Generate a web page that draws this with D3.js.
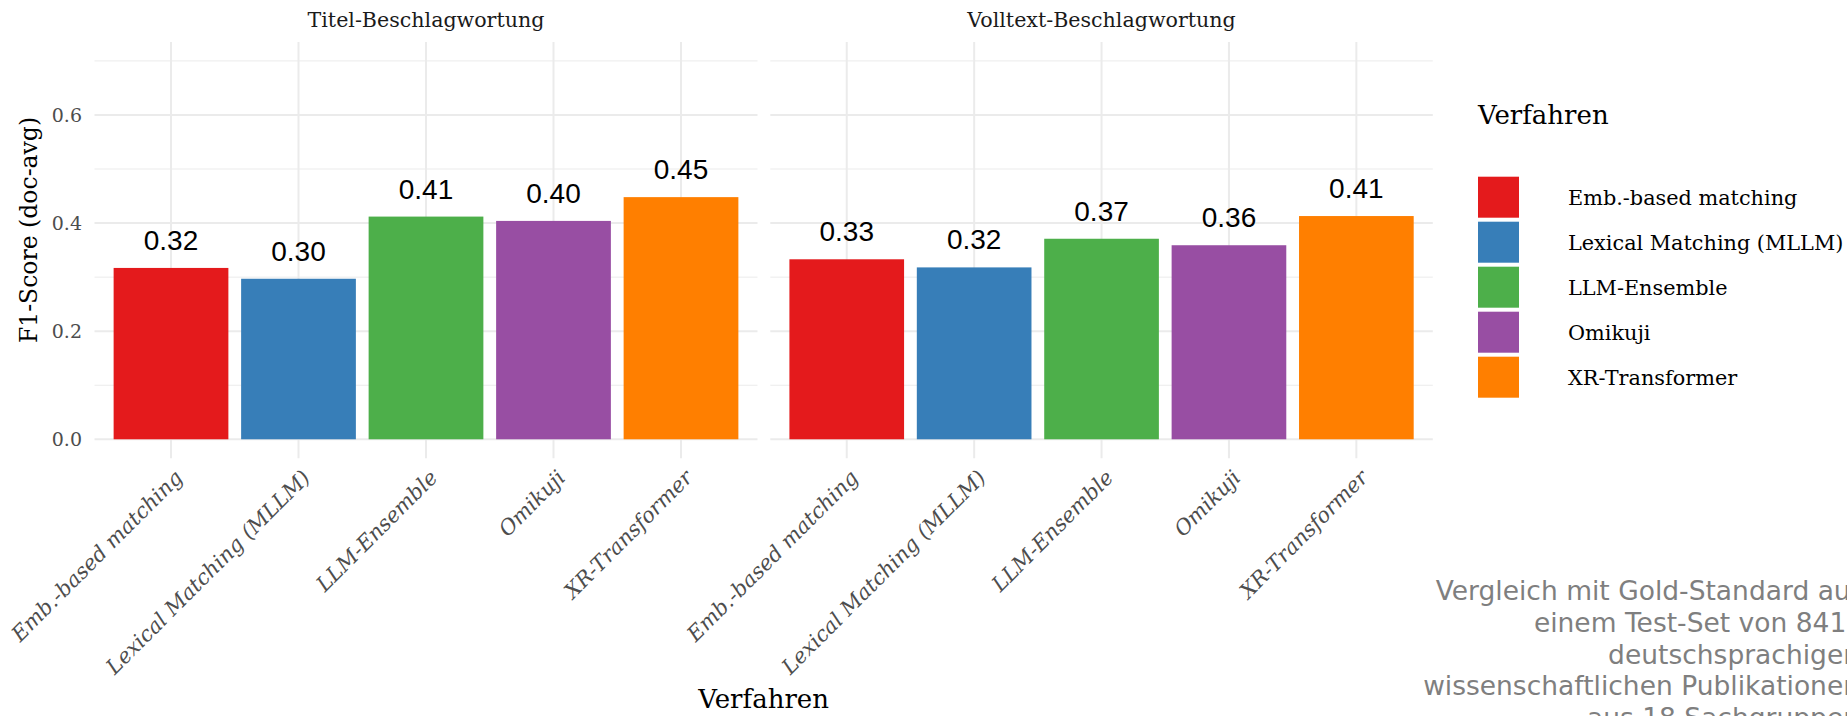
<!DOCTYPE html>
<html>
<head>
<meta charset="utf-8">
<script src="https://cdn.jsdelivr.net/npm/d3@7"></script>
<style>
  body { margin: 0; background: #fff; }
  svg { display: block; overflow: hidden; }
</style>
</head>
<body>
<div id="chart"></div>
<script>
// data
const methods = ["Emb.-based matching", "Lexical Matching (MLLM)", "LLM-Ensemble", "Omikuji", "XR-Transformer"];
const panels = ["Titel-Beschlagwortung", "Volltext-Beschlagwortung"];
const titelScores = [0.317, 0.297, 0.412, 0.404, 0.448];
const volltextScores = [0.333, 0.318, 0.371, 0.359, 0.413];
const colors = ["#E41A1C", "#377EB8", "#4DAF4A", "#984EA3", "#FF7F00"];
const majorTicks = [0, 0.2, 0.4, 0.6];
const minorTicks = [0.1, 0.3, 0.5, 0.7];
const captionLines = ["Vergleich mit Gold-Standard auf", "einem Test-Set von 841\u00a0\u2009", "deutschsprachigen", "wissenschaftlichen Publikationen", "aus 18 Sachgruppen"];

const w = 1847, h = 716;
const serif = "'DejaVu Serif', serif";
const sans = "'Liberation Sans', Arial, sans-serif";

const svg = d3.select("#chart").append("svg")
    .attr("width", w)
    .attr("height", h);

const yScale = d3.scaleLinear()
    .domain([-0.035, 0.735])
    .range([458.2, 42.0]);

const panelRanges = [[94.5, 757.5], [770.3, 1432.8]];
const panelData = [titelScores, volltextScores];

const color = d3.scaleOrdinal().domain(methods).range(colors);

panels.forEach((p, pi) => {
    const xScale = d3.scalePoint()
        .domain(methods)
        .range(panelRanges[pi])
        .padding(0.6);
    const barW = xScale.step() * 0.9;
    const g = svg.append("g");

    // grid
    g.selectAll(".minor").data(minorTicks).enter()
        .append("line")
        .attr("x1", panelRanges[pi][0]).attr("x2", panelRanges[pi][1])
        .attr("y1", d => yScale(d)).attr("y2", d => yScale(d))
        .attr("stroke", "#ebebeb").attr("stroke-width", 1);
    g.selectAll(".major").data(majorTicks).enter()
        .append("line")
        .attr("x1", panelRanges[pi][0]).attr("x2", panelRanges[pi][1])
        .attr("y1", d => yScale(d)).attr("y2", d => yScale(d))
        .attr("stroke", "#ebebeb").attr("stroke-width", 2);
    g.selectAll(".vgrid").data(methods).enter()
        .append("line")
        .attr("x1", d => xScale(d)).attr("x2", d => xScale(d))
        .attr("y1", yScale.range()[0]).attr("y2", yScale.range()[1])
        .attr("stroke", "#ebebeb").attr("stroke-width", 2);

    const rows = methods.map((m, i) => ({method: m, value: panelData[pi][i]}));

    g.selectAll("rect").data(rows).enter()
        .append("rect")
        .attr("x", d => xScale(d.method) - barW / 2)
        .attr("y", d => yScale(d.value))
        .attr("width", barW)
        .attr("height", d => yScale(0) - yScale(d.value))
        .attr("fill", d => color(d.method));

    g.selectAll(".lbl").data(rows).enter()
        .append("text")
        .attr("x", d => xScale(d.method))
        .attr("y", d => yScale(d.value) - 18)
        .attr("text-anchor", "middle")
        .attr("font-family", sans)
        .attr("font-size", 28)
        .attr("fill", "#000")
        .text(d => d.value.toFixed(2));

    // strip
    g.append("text")
        .attr("x", (panelRanges[pi][0] + panelRanges[pi][1]) / 2)
        .attr("y", 26.7)
        .attr("text-anchor", "middle")
        .attr("font-family", serif)
        .attr("font-size", 20.6)
        .attr("fill", "#1a1a1a")
        .text(p);

    // x tick labels
    g.selectAll(".xt").data(methods).enter()
        .append("text")
        .attr("transform", d => `translate(${xScale(d) + 1}, 467) rotate(-45)`)
        .attr("dy", "0.8em")
        .attr("text-anchor", "end")
        .attr("font-family", serif)
        .attr("font-style", "italic")
        .attr("font-size", 21)
        .attr("fill", "#4d4d4d")
        .text(d => d);
});

// y axis
const yAxis = d3.axisLeft(yScale)
    .tickValues(majorTicks)
    .tickFormat(d3.format(".1f"))
    .tickSize(0)
    .tickPadding(0);
const ya = svg.append("g")
    .attr("transform", "translate(82,0)")
    .call(yAxis);
ya.select(".domain").remove();
ya.selectAll("text")
    .attr("font-family", serif)
    .attr("font-size", 19)
    .attr("fill", "#4d4d4d");

svg.append("text")
    .attr("transform", "translate(37, 230) rotate(-90)")
    .attr("text-anchor", "middle")
    .attr("font-family", serif)
    .attr("font-size", 23.5)
    .attr("fill", "#000")
    .text("F1-Score (doc-avg)");

svg.append("text")
    .attr("x", (panelRanges[0][0] + panelRanges[1][1]) / 2)
    .attr("y", 708)
    .attr("text-anchor", "middle")
    .attr("font-family", serif)
    .attr("font-size", 26)
    .attr("fill", "#000")
    .text("Verfahren");

// legend
const legendY = d3.scaleBand()
    .domain(methods)
    .range([174.7, 399.7]);
const legend = svg.append("g");
legend.append("text")
    .attr("x", 1478)
    .attr("y", 124)
    .attr("font-family", serif)
    .attr("font-size", 26)
    .attr("fill", "#000")
    .text("Verfahren");
legend.selectAll("rect").data(methods).enter()
    .append("rect")
    .attr("x", 1478)
    .attr("y", d => legendY(d) + 2)
    .attr("width", 41)
    .attr("height", legendY.bandwidth() - 4)
    .attr("fill", d => color(d));
legend.selectAll(".lt").data(methods).enter()
    .append("text")
    .attr("x", 1568)
    .attr("y", d => legendY(d) + legendY.bandwidth() / 2)
    .attr("dy", "0.38em")
    .attr("font-family", serif)
    .attr("font-size", 20.8)
    .attr("fill", "#000")
    .text(d => d);

// caption (runs off the right edge, as in the original)
svg.append("g").selectAll("text").data(captionLines).enter()
    .append("text")
    .attr("x", 1860)
    .attr("y", (d, i) => 600 + i * 31.8)
    .attr("text-anchor", "end")
    .attr("font-family", "'DejaVu Sans', sans-serif")
    .attr("font-size", 26.5)
    .attr("fill", "#7f7f7f")
    .text(d => d);
</script>
</body>
</html>
